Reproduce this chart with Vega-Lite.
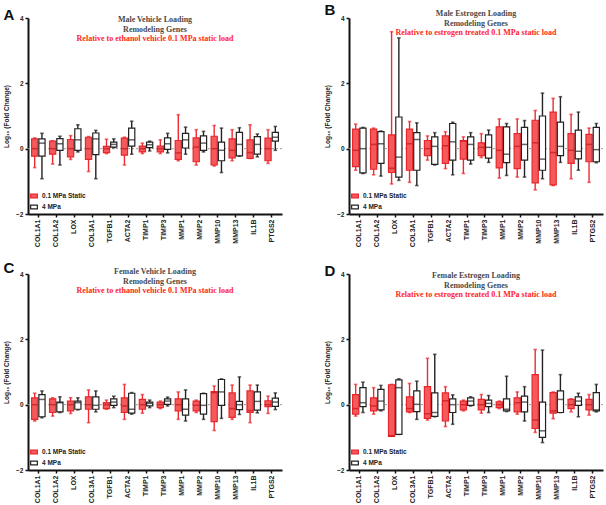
{
  "$schema": "https://vega.github.io/schema/vega-lite/v6.json",
  "padding": 3,
  "background": "white",
  "columns": 2,
  "spacing": {"row": 14, "column": 41},
  "resolve": {"scale": {"fill": "independent", "stroke": "independent"}},
  "config": {
    "view": {"stroke": null},
    "font": "Liberation Sans",
    "axis": {"domainColor": "#111", "domainWidth": 2, "tickColor": "#111", "tickWidth": 1.5, "tickSize": 3, "grid": false, "labelFont": "Liberation Sans", "labelFontWeight": "bold", "labelColor": "#222", "titleFont": "Liberation Sans", "titleFontWeight": "bold", "titleColor": "#222"},
    "legend": {"orient": "bottom-left", "offset": 2, "padding": 0, "rowPadding": 1, "labelFontSize": 6.5, "labelFontWeight": "bold", "labelColor": "#222", "labelFont": "Liberation Sans", "symbolType": "M-1,-0.55H1V0.55H-1Z", "symbolSize": 45, "symbolStrokeWidth": 1.2, "labelOffset": 4}
  },
  "data": {"values": [
    {"p":"A","g":"COL1A1","s":"0.1 MPa Static","mn":-0.58,"q1":-0.23,"md":0,"q3":0.30,"mx":0.33},
    {"p":"A","g":"COL1A1","s":"4 MPa","mn":-0.92,"q1":-0.23,"md":0.17,"q3":0.30,"mx":0.47},
    {"p":"A","g":"COL1A2","s":"0.1 MPa Static","mn":-0.47,"q1":-0.17,"md":0,"q3":0.23,"mx":0.24},
    {"p":"A","g":"COL1A2","s":"4 MPa","mn":-0.5,"q1":-0.05,"md":0.15,"q3":0.31,"mx":0.38},
    {"p":"A","g":"LOX","s":"0.1 MPa Static","mn":-0.33,"q1":-0.25,"md":0,"q3":0.28,"mx":0.40},
    {"p":"A","g":"LOX","s":"4 MPa","mn":-0.1,"q1":-0.05,"md":0.27,"q3":0.61,"mx":0.73},
    {"p":"A","g":"COL3A1","s":"0.1 MPa Static","mn":-0.7,"q1":-0.33,"md":0,"q3":0.35,"mx":0.37},
    {"p":"A","g":"COL3A1","s":"4 MPa","mn":-0.92,"q1":-0.18,"md":0.30,"q3":0.48,"mx":0.56},
    {"p":"A","g":"TGFB1","s":"0.1 MPa Static","mn":-0.15,"q1":-0.12,"md":0,"q3":0.07,"mx":0.29},
    {"p":"A","g":"TGFB1","s":"4 MPa","mn":0.03,"q1":0.05,"md":0.13,"q3":0.2,"mx":0.3},
    {"p":"A","g":"ACTA2","s":"0.1 MPa Static","mn":-0.5,"q1":-0.2,"md":0,"q3":0.32,"mx":0.35},
    {"p":"A","g":"ACTA2","s":"4 MPa","mn":-0.17,"q1":0.08,"md":0.27,"q3":0.63,"mx":0.84},
    {"p":"A","g":"TIMP1","s":"0.1 MPa Static","mn":-0.15,"q1":-0.1,"md":0,"q3":0.08,"mx":0.17},
    {"p":"A","g":"TIMP1","s":"4 MPa","mn":-0.07,"q1":0.03,"md":0.12,"q3":0.2,"mx":0.23},
    {"p":"A","g":"TIMP3","s":"0.1 MPa Static","mn":-0.15,"q1":-0.1,"md":0,"q3":0.08,"mx":0.27},
    {"p":"A","g":"TIMP3","s":"4 MPa","mn":-0.13,"q1":-0.02,"md":0.15,"q3":0.33,"mx":0.47},
    {"p":"A","g":"MMP1","s":"0.1 MPa Static","mn":-0.37,"q1":-0.33,"md":-0.13,"q3":0.25,"mx":1.04},
    {"p":"A","g":"MMP1","s":"4 MPa","mn":-0.17,"q1":0.02,"md":0.27,"q3":0.47,"mx":0.66},
    {"p":"A","g":"MMP2","s":"0.1 MPa Static","mn":-0.5,"q1":-0.4,"md":0.05,"q3":0.33,"mx":0.58},
    {"p":"A","g":"MMP2","s":"4 MPa","mn":-0.1,"q1":-0.05,"md":0.17,"q3":0.39,"mx":0.53},
    {"p":"A","g":"MMP10","s":"0.1 MPa Static","mn":-0.53,"q1":-0.5,"md":0,"q3":0.38,"mx":0.71},
    {"p":"A","g":"MMP10","s":"4 MPa","mn":-0.73,"q1":-0.37,"md":-0.05,"q3":0.2,"mx":0.63},
    {"p":"A","g":"MMP13","s":"0.1 MPa Static","mn":-0.37,"q1":-0.28,"md":-0.05,"q3":0.3,"mx":0.58},
    {"p":"A","g":"MMP13","s":"4 MPa","mn":-0.23,"q1":-0.22,"md":0.13,"q3":0.5,"mx":0.64},
    {"p":"A","g":"IL1B","s":"0.1 MPa Static","mn":-0.3,"q1":-0.3,"md":-0.12,"q3":0.27,"mx":0.73},
    {"p":"A","g":"IL1B","s":"4 MPa","mn":-0.25,"q1":-0.17,"md":0.13,"q3":0.37,"mx":0.45},
    {"p":"A","g":"PTGS2","s":"0.1 MPa Static","mn":-0.45,"q1":-0.37,"md":0,"q3":0.32,"mx":0.58},
    {"p":"A","g":"PTGS2","s":"4 MPa","mn":-0.05,"q1":0.23,"md":0.35,"q3":0.5,"mx":0.68},

    {"p":"B","g":"COL1A1","s":"0.1 MPa Static","mn":-0.66,"q1":-0.55,"md":-0.05,"q3":0.6,"mx":0.75},
    {"p":"B","g":"COL1A1","s":"4 MPa","mn":-0.76,"q1":-0.74,"md":0,"q3":0.63,"mx":0.65},
    {"p":"B","g":"COL1A2","s":"0.1 MPa Static","mn":-0.8,"q1":-0.63,"md":0.13,"q3":0.6,"mx":0.63},
    {"p":"B","g":"COL1A2","s":"4 MPa","mn":-0.84,"q1":-0.45,"md":0.15,"q3":0.52,"mx":0.54},
    {"p":"B","g":"LOX","s":"0.1 MPa Static","mn":-1.08,"q1":-0.73,"md":-0.6,"q3":0.42,"mx":3.58},
    {"p":"B","g":"LOX","s":"4 MPa","mn":-0.97,"q1":-0.87,"md":-0.26,"q3":0.97,"mx":3.39},
    {"p":"B","g":"COL3A1","s":"0.1 MPa Static","mn":-1.03,"q1":-0.66,"md":0.15,"q3":0.6,"mx":0.83},
    {"p":"B","g":"COL3A1","s":"4 MPa","mn":-1.13,"q1":-0.66,"md":0.28,"q3":0.49,"mx":0.79},
    {"p":"B","g":"TGFB1","s":"0.1 MPa Static","mn":-0.35,"q1":-0.21,"md":0,"q3":0.25,"mx":0.39},
    {"p":"B","g":"TGFB1","s":"4 MPa","mn":-0.5,"q1":-0.48,"md":0.07,"q3":0.36,"mx":0.49},
    {"p":"B","g":"ACTA2","s":"0.1 MPa Static","mn":-0.61,"q1":-0.45,"md":0.09,"q3":0.39,"mx":0.52},
    {"p":"B","g":"ACTA2","s":"4 MPa","mn":-0.8,"q1":-0.35,"md":0.21,"q3":0.77,"mx":0.81},
    {"p":"B","g":"TIMP1","s":"0.1 MPa Static","mn":-0.76,"q1":-0.32,"md":0.23,"q3":0.25,"mx":0.36},
    {"p":"B","g":"TIMP1","s":"4 MPa","mn":-0.47,"q1":-0.35,"md":0.13,"q3":0.36,"mx":0.49},
    {"p":"B","g":"TIMP3","s":"0.1 MPa Static","mn":-0.27,"q1":-0.21,"md":0.04,"q3":0.18,"mx":0.46},
    {"p":"B","g":"TIMP3","s":"4 MPa","mn":-0.42,"q1":-0.29,"md":0.04,"q3":0.42,"mx":0.57},
    {"p":"B","g":"MMP1","s":"0.1 MPa Static","mn":-0.9,"q1":-0.59,"md":-0.05,"q3":0.67,"mx":0.91},
    {"p":"B","g":"MMP1","s":"4 MPa","mn":-0.82,"q1":-0.43,"md":-0.17,"q3":0.67,"mx":0.77},
    {"p":"B","g":"MMP2","s":"0.1 MPa Static","mn":-0.87,"q1":-0.61,"md":0.07,"q3":0.46,"mx":0.91},
    {"p":"B","g":"MMP2","s":"4 MPa","mn":-0.87,"q1":-0.35,"md":0.13,"q3":0.65,"mx":0.86},
    {"p":"B","g":"MMP10","s":"0.1 MPa Static","mn":-1.26,"q1":-1.05,"md":0.18,"q3":0.87,"mx":1.17},
    {"p":"B","g":"MMP10","s":"4 MPa","mn":-0.92,"q1":-0.66,"md":-0.32,"q3":1.0,"mx":1.70},
    {"p":"B","g":"MMP13","s":"0.1 MPa Static","mn":-1.13,"q1":-1.11,"md":-0.12,"q3":1.12,"mx":1.54},
    {"p":"B","g":"MMP13","s":"4 MPa","mn":-0.42,"q1":-0.21,"md":0.07,"q3":0.81,"mx":1.59},
    {"p":"B","g":"IL1B","s":"0.1 MPa Static","mn":-0.92,"q1":-0.45,"md":-0.05,"q3":0.46,"mx":1.05},
    {"p":"B","g":"IL1B","s":"4 MPa","mn":-0.66,"q1":-0.31,"md":-0.08,"q3":0.57,"mx":1.12},
    {"p":"B","g":"PTGS2","s":"0.1 MPa Static","mn":-1.03,"q1":-0.4,"md":0.13,"q3":0.44,"mx":0.63},
    {"p":"B","g":"PTGS2","s":"4 MPa","mn":-0.43,"q1":-0.4,"md":-0.03,"q3":0.65,"mx":0.77},

    {"p":"C","g":"COL1A1","s":"0.1 MPa Static","mn":-0.5,"q1":-0.45,"md":0,"q3":0.21,"mx":0.35},
    {"p":"C","g":"COL1A1","s":"4 MPa","mn":-0.4,"q1":-0.37,"md":0.16,"q3":0.31,"mx":0.42},
    {"p":"C","g":"COL1A2","s":"0.1 MPa Static","mn":-0.35,"q1":-0.24,"md":0,"q3":0.18,"mx":0.21},
    {"p":"C","g":"COL1A2","s":"4 MPa","mn":-0.24,"q1":-0.22,"md":0.06,"q3":0.08,"mx":0.24},
    {"p":"C","g":"LOX","s":"0.1 MPa Static","mn":-0.27,"q1":-0.19,"md":0,"q3":0.11,"mx":0.21},
    {"p":"C","g":"LOX","s":"4 MPa","mn":-0.16,"q1":-0.14,"md":0.06,"q3":0.11,"mx":0.21},
    {"p":"C","g":"COL3A1","s":"0.1 MPa Static","mn":-0.55,"q1":-0.14,"md":0,"q3":0.24,"mx":0.45},
    {"p":"C","g":"COL3A1","s":"4 MPa","mn":-0.22,"q1":-0.14,"md":-0.02,"q3":0.24,"mx":0.42},
    {"p":"C","g":"TGFB1","s":"0.1 MPa Static","mn":-0.14,"q1":-0.12,"md":0,"q3":0.06,"mx":0.14},
    {"p":"C","g":"TGFB1","s":"4 MPa","mn":-0.09,"q1":-0.02,"md":0.08,"q3":0.18,"mx":0.26},
    {"p":"C","g":"ACTA2","s":"0.1 MPa Static","mn":-0.45,"q1":-0.24,"md":-0.04,"q3":0.21,"mx":0.62},
    {"p":"C","g":"ACTA2","s":"4 MPa","mn":-0.29,"q1":-0.26,"md":-0.14,"q3":0.35,"mx":0.37},
    {"p":"C","g":"TIMP1","s":"0.1 MPa Static","mn":-0.26,"q1":-0.14,"md":0,"q3":0.16,"mx":0.31},
    {"p":"C","g":"TIMP1","s":"4 MPa","mn":-0.09,"q1":-0.04,"md":0.04,"q3":0.08,"mx":0.14},
    {"p":"C","g":"TIMP3","s":"0.1 MPa Static","mn":-0.12,"q1":-0.09,"md":0,"q3":0.08,"mx":0.11},
    {"p":"C","g":"TIMP3","s":"4 MPa","mn":-0.04,"q1":0.01,"md":0.11,"q3":0.18,"mx":0.23},
    {"p":"C","g":"MMP1","s":"0.1 MPa Static","mn":-0.45,"q1":-0.19,"md":0,"q3":0.18,"mx":0.39},
    {"p":"C","g":"MMP1","s":"4 MPa","mn":-0.5,"q1":-0.32,"md":-0.14,"q3":0.18,"mx":0.45},
    {"p":"C","g":"MMP2","s":"0.1 MPa Static","mn":-0.24,"q1":-0.19,"md":-0.02,"q3":0.11,"mx":0.14},
    {"p":"C","g":"MMP2","s":"4 MPa","mn":-0.45,"q1":-0.29,"md":-0.02,"q3":0.34,"mx":0.35},
    {"p":"C","g":"MMP10","s":"0.1 MPa Static","mn":-0.79,"q1":-0.52,"md":0.37,"q3":0.4,"mx":0.57},
    {"p":"C","g":"MMP10","s":"4 MPa","mn":-0.42,"q1":-0.02,"md":0.39,"q3":0.77,"mx":0.79},
    {"p":"C","g":"MMP13","s":"0.1 MPa Static","mn":-0.45,"q1":-0.39,"md":-0.12,"q3":0.36,"mx":0.6},
    {"p":"C","g":"MMP13","s":"4 MPa","mn":-0.3,"q1":-0.15,"md":0,"q3":0.1,"mx":0.85},
    {"p":"C","g":"IL1B","s":"0.1 MPa Static","mn":-0.55,"q1":-0.24,"md":-0.18,"q3":0.42,"mx":0.6},
    {"p":"C","g":"IL1B","s":"4 MPa","mn":-0.25,"q1":-0.17,"md":0.1,"q3":0.39,"mx":0.6},
    {"p":"C","g":"PTGS2","s":"0.1 MPa Static","mn":-0.27,"q1":-0.06,"md":0,"q3":0.12,"mx":0.26},
    {"p":"C","g":"PTGS2","s":"4 MPa","mn":-0.15,"q1":-0.05,"md":0.08,"q3":0.2,"mx":0.36},

    {"p":"D","g":"COL1A1","s":"0.1 MPa Static","mn":-0.35,"q1":-0.29,"md":-0.12,"q3":0.31,"mx":0.62},
    {"p":"D","g":"COL1A1","s":"4 MPa","mn":-0.24,"q1":-0.06,"md":0.06,"q3":0.52,"mx":0.69},
    {"p":"D","g":"COL1A2","s":"0.1 MPa Static","mn":-0.29,"q1":-0.19,"md":-0.04,"q3":0.21,"mx":0.52},
    {"p":"D","g":"COL1A2","s":"4 MPa","mn":-0.19,"q1":-0.16,"md":0.11,"q3":0.47,"mx":0.59},
    {"p":"D","g":"LOX","s":"0.1 MPa Static","mn":-0.97,"q1":-0.97,"md":-0.95,"q3":0.61,"mx":0.62},
    {"p":"D","g":"LOX","s":"4 MPa","mn":-0.91,"q1":-0.91,"md":0.52,"q3":0.76,"mx":0.79},
    {"p":"D","g":"COL3A1","s":"0.1 MPa Static","mn":-0.24,"q1":-0.22,"md":-0.12,"q3":0.24,"mx":0.65},
    {"p":"D","g":"COL3A1","s":"4 MPa","mn":-0.45,"q1":-0.21,"md":0.01,"q3":0.42,"mx":0.72},
    {"p":"D","g":"TGFB1","s":"0.1 MPa Static","mn":-0.47,"q1":-0.42,"md":-0.28,"q3":0.55,"mx":1.42},
    {"p":"D","g":"TGFB1","s":"4 MPa","mn":-0.37,"q1":-0.36,"md":-0.24,"q3":0.36,"mx":1.54},
    {"p":"D","g":"ACTA2","s":"0.1 MPa Static","mn":-0.67,"q1":-0.5,"md":0.12,"q3":0.36,"mx":0.55},
    {"p":"D","g":"ACTA2","s":"4 MPa","mn":-0.6,"q1":-0.24,"md":0,"q3":0.18,"mx":0.3},
    {"p":"D","g":"TIMP1","s":"0.1 MPa Static","mn":-0.19,"q1":-0.16,"md":0,"q3":0.11,"mx":0.14},
    {"p":"D","g":"TIMP1","s":"4 MPa","mn":-0.04,"q1":-0.02,"md":0.11,"q3":0.21,"mx":0.24},
    {"p":"D","g":"TIMP3","s":"0.1 MPa Static","mn":-0.26,"q1":-0.16,"md":0,"q3":0.16,"mx":0.31},
    {"p":"D","g":"TIMP3","s":"4 MPa","mn":-0.24,"q1":-0.06,"md":0.04,"q3":0.14,"mx":0.28},
    {"p":"D","g":"MMP1","s":"0.1 MPa Static","mn":-0.12,"q1":-0.09,"md":0,"q3":0.09,"mx":0.11},
    {"p":"D","g":"MMP1","s":"4 MPa","mn":-0.21,"q1":-0.19,"md":-0.14,"q3":0.18,"mx":0.87},
    {"p":"D","g":"MMP2","s":"0.1 MPa Static","mn":-0.29,"q1":-0.22,"md":0.06,"q3":0.21,"mx":0.39},
    {"p":"D","g":"MMP2","s":"4 MPa","mn":-0.5,"q1":-0.22,"md":0.08,"q3":0.26,"mx":0.55},
    {"p":"D","g":"MMP10","s":"0.1 MPa Static","mn":-0.85,"q1":-0.73,"md":-0.47,"q3":0.92,"mx":1.69},
    {"p":"D","g":"MMP10","s":"4 MPa","mn":-1.16,"q1":-1.0,"md":-0.8,"q3":0.08,"mx":1.67},
    {"p":"D","g":"MMP13","s":"0.1 MPa Static","mn":-0.43,"q1":-0.26,"md":-0.19,"q3":0.37,"mx":0.39},
    {"p":"D","g":"MMP13","s":"4 MPa","mn":-0.24,"q1":-0.24,"md":0.16,"q3":0.42,"mx":0.92},
    {"p":"D","g":"IL1B","s":"0.1 MPa Static","mn":-0.22,"q1":-0.12,"md":0,"q3":0.16,"mx":0.18},
    {"p":"D","g":"IL1B","s":"4 MPa","mn":-0.37,"q1":-0.02,"md":0.11,"q3":0.24,"mx":0.35},
    {"p":"D","g":"PTGS2","s":"0.1 MPa Static","mn":-0.32,"q1":-0.16,"md":0,"q3":0.16,"mx":0.31},
    {"p":"D","g":"PTGS2","s":"4 MPa","mn":-0.22,"q1":-0.19,"md":-0.16,"q3":0.37,"mx":0.62}
  ]},
  "concat": [
    {
      "title": {"text": "A", "anchor": "start", "frame": "bounds", "fontSize": 15, "fontWeight": "bold", "font": "Liberation Sans", "color": "#111", "offset": -8},
      "resolve": {"scale": {"fill": "independent", "stroke": "independent"}},
      "vconcat": [{
        "width": 254, "height": 196,
        "title": {"text": ["Male Vehicle Loading", "Remodeling Genes"], "subtitle": "Relative to ethanol vehicle 0.1 MPa static load", "anchor": "middle", "frame": "group", "font": "Liberation Serif", "fontSize": 8, "fontWeight": "bold", "color": "#4a4a4a", "lineHeight": 10, "subtitleFont": "Liberation Serif", "subtitleFontSize": 8, "subtitleFontWeight": "bold", "subtitleColor": "#ff2626", "subtitlePadding": 1, "offset": -28},
        "transform": [{"filter": "datum.p === 'A'"}],
        "layer": [
          {"data": {"values": [{}]}, "mark": {"type": "rule", "strokeDash": [2, 2], "color": "#9a9a9a", "strokeWidth": 1}, "encoding": {"y": {"datum": 0, "type": "quantitative"}}},
          {
            "encoding": {
              "x": {"field": "g", "type": "nominal", "sort": ["COL1A1","COL1A2","LOX","COL3A1","TGFB1","ACTA2","TIMP1","TIMP3","MMP1","MMP2","MMP10","MMP13","IL1B","PTGS2"], "scale": {"paddingInner": 0.25, "paddingOuter": 0.2}, "axis": {"title": null, "labelAngle": -90, "labelFontSize": 7, "labelPadding": 2}},
              "xOffset": {"field": "s", "type": "nominal", "sort": ["0.1 MPa Static", "4 MPa"], "scale": {"paddingInner": 0.15}}
            },
            "layer": [
              {"mark": {"type": "rule", "strokeWidth": 1.4}, "encoding": {"y": {"field": "mn", "type": "quantitative", "title": "Log₁₀ (Fold Change)", "scale": {"domain": [-2, 4]}, "axis": {"values": [-2, 0, 2, 4], "labelFontSize": 6.5, "titleFontSize": 6.5, "titlePadding": 6}}, "y2": {"field": "mx"}, "stroke": {"condition": {"test": "datum.s === '4 MPa'", "value": "#222222"}, "value": "#ee2a30"}}},
              {"mark": {"type": "tick", "size": 3.5, "thickness": 1.6}, "encoding": {"y": {"field": "mn", "type": "quantitative", "title": "Log₁₀ (Fold Change)"}, "color": {"condition": {"test": "datum.s === '4 MPa'", "value": "#222222"}, "value": "#ee2a30"}}},
              {"mark": {"type": "tick", "size": 3.5, "thickness": 1.6}, "encoding": {"y": {"field": "mx", "type": "quantitative", "title": "Log₁₀ (Fold Change)"}, "color": {"condition": {"test": "datum.s === '4 MPa'", "value": "#222222"}, "value": "#ee2a30"}}},
              {"mark": {"type": "bar", "strokeWidth": 1.2, "fillOpacity": 1}, "encoding": {"y": {"field": "q1", "type": "quantitative", "title": "Log₁₀ (Fold Change)"}, "y2": {"field": "q3"}, "fill": {"field": "s", "type": "nominal", "scale": {"domain": ["0.1 MPa Static", "4 MPa"], "range": ["#f45a5c", "#ffffff"]}, "legend": {"title": null, "orient": "bottom-left"}}, "stroke": {"field": "s", "type": "nominal", "scale": {"domain": ["0.1 MPa Static", "4 MPa"], "range": ["#e8262c", "#222222"]}, "legend": {"title": null, "orient": "bottom-left"}}}},
              {"mark": {"type": "tick", "size": 6, "thickness": 1.5}, "encoding": {"y": {"field": "md", "type": "quantitative", "title": "Log₁₀ (Fold Change)"}, "color": {"condition": {"test": "datum.s === '4 MPa'", "value": "#222222"}, "value": "#c8141a"}}}
            ]
          }
        ]
      }]
    },
    {
      "title": {"text": "B", "anchor": "start", "frame": "bounds", "fontSize": 15, "fontWeight": "bold", "font": "Liberation Sans", "color": "#111", "offset": -8},
      "resolve": {"scale": {"fill": "independent", "stroke": "independent"}},
      "vconcat": [{
        "width": 254, "height": 196,
        "title": {"text": ["Male Estrogen Loading", "Remodeling Genes"], "subtitle": "Relative to estrogen treated 0.1 MPa static load", "anchor": "middle", "frame": "group", "font": "Liberation Serif", "fontSize": 8, "fontWeight": "bold", "color": "#4a4a4a", "lineHeight": 10, "subtitleFont": "Liberation Serif", "subtitleFontSize": 8, "subtitleFontWeight": "bold", "subtitleColor": "#ff2626", "subtitlePadding": 1, "offset": -22},
        "transform": [{"filter": "datum.p === 'B'"}],
        "layer": [
          {"data": {"values": [{}]}, "mark": {"type": "rule", "strokeDash": [2, 2], "color": "#9a9a9a", "strokeWidth": 1}, "encoding": {"y": {"datum": 0, "type": "quantitative"}}},
          {
            "encoding": {
              "x": {"field": "g", "type": "nominal", "sort": ["COL1A1","COL1A2","LOX","COL3A1","TGFB1","ACTA2","TIMP1","TIMP3","MMP1","MMP2","MMP10","MMP13","IL1B","PTGS2"], "scale": {"paddingInner": 0.25, "paddingOuter": 0.2}, "axis": {"title": null, "labelAngle": -90, "labelFontSize": 7, "labelPadding": 2}},
              "xOffset": {"field": "s", "type": "nominal", "sort": ["0.1 MPa Static", "4 MPa"], "scale": {"paddingInner": 0.15}}
            },
            "layer": [
              {"mark": {"type": "rule", "strokeWidth": 1.4}, "encoding": {"y": {"field": "mn", "type": "quantitative", "title": "Log₁₀ (Fold Change)", "scale": {"domain": [-2, 4]}, "axis": {"values": [-2, 0, 2, 4], "labelFontSize": 6.5, "titleFontSize": 6.5, "titlePadding": 6}}, "y2": {"field": "mx"}, "stroke": {"condition": {"test": "datum.s === '4 MPa'", "value": "#222222"}, "value": "#ee2a30"}}},
              {"mark": {"type": "tick", "size": 3.5, "thickness": 1.6}, "encoding": {"y": {"field": "mn", "type": "quantitative", "title": "Log₁₀ (Fold Change)"}, "color": {"condition": {"test": "datum.s === '4 MPa'", "value": "#222222"}, "value": "#ee2a30"}}},
              {"mark": {"type": "tick", "size": 3.5, "thickness": 1.6}, "encoding": {"y": {"field": "mx", "type": "quantitative", "title": "Log₁₀ (Fold Change)"}, "color": {"condition": {"test": "datum.s === '4 MPa'", "value": "#222222"}, "value": "#ee2a30"}}},
              {"mark": {"type": "bar", "strokeWidth": 1.2, "fillOpacity": 1}, "encoding": {"y": {"field": "q1", "type": "quantitative", "title": "Log₁₀ (Fold Change)"}, "y2": {"field": "q3"}, "fill": {"field": "s", "type": "nominal", "scale": {"domain": ["0.1 MPa Static", "4 MPa"], "range": ["#f45a5c", "#ffffff"]}, "legend": {"title": null, "orient": "bottom-left"}}, "stroke": {"field": "s", "type": "nominal", "scale": {"domain": ["0.1 MPa Static", "4 MPa"], "range": ["#e8262c", "#222222"]}, "legend": {"title": null, "orient": "bottom-left"}}}},
              {"mark": {"type": "tick", "size": 6, "thickness": 1.5}, "encoding": {"y": {"field": "md", "type": "quantitative", "title": "Log₁₀ (Fold Change)"}, "color": {"condition": {"test": "datum.s === '4 MPa'", "value": "#222222"}, "value": "#c8141a"}}}
            ]
          }
        ]
      }]
    },
    {
      "title": {"text": "C", "anchor": "start", "frame": "bounds", "fontSize": 15, "fontWeight": "bold", "font": "Liberation Sans", "color": "#111", "offset": -8},
      "resolve": {"scale": {"fill": "independent", "stroke": "independent"}},
      "vconcat": [{
        "width": 254, "height": 196,
        "title": {"text": ["Female Vehicle Loading", "Remodeling Genes"], "subtitle": "Relative to ethanol vehicle 0.1 MPa static load", "anchor": "middle", "frame": "group", "font": "Liberation Serif", "fontSize": 8, "fontWeight": "bold", "color": "#4a4a4a", "lineHeight": 10, "subtitleFont": "Liberation Serif", "subtitleFontSize": 8, "subtitleFontWeight": "bold", "subtitleColor": "#ff2626", "subtitlePadding": 1, "offset": -24},
        "transform": [{"filter": "datum.p === 'C'"}],
        "layer": [
          {"data": {"values": [{}]}, "mark": {"type": "rule", "strokeDash": [2, 2], "color": "#9a9a9a", "strokeWidth": 1}, "encoding": {"y": {"datum": 0, "type": "quantitative"}}},
          {
            "encoding": {
              "x": {"field": "g", "type": "nominal", "sort": ["COL1A1","COL1A2","LOX","COL3A1","TGFB1","ACTA2","TIMP1","TIMP3","MMP1","MMP2","MMP10","MMP13","IL1B","PTGS2"], "scale": {"paddingInner": 0.25, "paddingOuter": 0.2}, "axis": {"title": null, "labelAngle": -90, "labelFontSize": 7, "labelPadding": 2}},
              "xOffset": {"field": "s", "type": "nominal", "sort": ["0.1 MPa Static", "4 MPa"], "scale": {"paddingInner": 0.15}}
            },
            "layer": [
              {"mark": {"type": "rule", "strokeWidth": 1.4}, "encoding": {"y": {"field": "mn", "type": "quantitative", "title": "Log₁₀ (Fold Change)", "scale": {"domain": [-2, 4]}, "axis": {"values": [-2, 0, 2, 4], "labelFontSize": 6.5, "titleFontSize": 6.5, "titlePadding": 6}}, "y2": {"field": "mx"}, "stroke": {"condition": {"test": "datum.s === '4 MPa'", "value": "#222222"}, "value": "#ee2a30"}}},
              {"mark": {"type": "tick", "size": 3.5, "thickness": 1.6}, "encoding": {"y": {"field": "mn", "type": "quantitative", "title": "Log₁₀ (Fold Change)"}, "color": {"condition": {"test": "datum.s === '4 MPa'", "value": "#222222"}, "value": "#ee2a30"}}},
              {"mark": {"type": "tick", "size": 3.5, "thickness": 1.6}, "encoding": {"y": {"field": "mx", "type": "quantitative", "title": "Log₁₀ (Fold Change)"}, "color": {"condition": {"test": "datum.s === '4 MPa'", "value": "#222222"}, "value": "#ee2a30"}}},
              {"mark": {"type": "bar", "strokeWidth": 1.2, "fillOpacity": 1}, "encoding": {"y": {"field": "q1", "type": "quantitative", "title": "Log₁₀ (Fold Change)"}, "y2": {"field": "q3"}, "fill": {"field": "s", "type": "nominal", "scale": {"domain": ["0.1 MPa Static", "4 MPa"], "range": ["#f45a5c", "#ffffff"]}, "legend": {"title": null, "orient": "bottom-left"}}, "stroke": {"field": "s", "type": "nominal", "scale": {"domain": ["0.1 MPa Static", "4 MPa"], "range": ["#e8262c", "#222222"]}, "legend": {"title": null, "orient": "bottom-left"}}}},
              {"mark": {"type": "tick", "size": 6, "thickness": 1.5}, "encoding": {"y": {"field": "md", "type": "quantitative", "title": "Log₁₀ (Fold Change)"}, "color": {"condition": {"test": "datum.s === '4 MPa'", "value": "#222222"}, "value": "#c8141a"}}}
            ]
          }
        ]
      }]
    },
    {
      "title": {"text": "D", "anchor": "start", "frame": "bounds", "fontSize": 15, "fontWeight": "bold", "font": "Liberation Sans", "color": "#111", "offset": -8},
      "resolve": {"scale": {"fill": "independent", "stroke": "independent"}},
      "vconcat": [{
        "width": 254, "height": 196,
        "title": {"text": ["Female Estrogen Loading", "Remodeling Genes"], "subtitle": "Relative to estrogen treated 0.1 MPa static load", "anchor": "middle", "frame": "group", "font": "Liberation Serif", "fontSize": 8, "fontWeight": "bold", "color": "#4a4a4a", "lineHeight": 10, "subtitleFont": "Liberation Serif", "subtitleFontSize": 8, "subtitleFontWeight": "bold", "subtitleColor": "#ff2626", "subtitlePadding": 1, "offset": -28},
        "transform": [{"filter": "datum.p === 'D'"}],
        "layer": [
          {"data": {"values": [{}]}, "mark": {"type": "rule", "strokeDash": [2, 2], "color": "#9a9a9a", "strokeWidth": 1}, "encoding": {"y": {"datum": 0, "type": "quantitative"}}},
          {
            "encoding": {
              "x": {"field": "g", "type": "nominal", "sort": ["COL1A1","COL1A2","LOX","COL3A1","TGFB1","ACTA2","TIMP1","TIMP3","MMP1","MMP2","MMP10","MMP13","IL1B","PTGS2"], "scale": {"paddingInner": 0.25, "paddingOuter": 0.2}, "axis": {"title": null, "labelAngle": -90, "labelFontSize": 7, "labelPadding": 2}},
              "xOffset": {"field": "s", "type": "nominal", "sort": ["0.1 MPa Static", "4 MPa"], "scale": {"paddingInner": 0.15}}
            },
            "layer": [
              {"mark": {"type": "rule", "strokeWidth": 1.4}, "encoding": {"y": {"field": "mn", "type": "quantitative", "title": "Log₁₀ (Fold Change)", "scale": {"domain": [-2, 4]}, "axis": {"values": [-2, 0, 2, 4], "labelFontSize": 6.5, "titleFontSize": 6.5, "titlePadding": 6}}, "y2": {"field": "mx"}, "stroke": {"condition": {"test": "datum.s === '4 MPa'", "value": "#222222"}, "value": "#ee2a30"}}},
              {"mark": {"type": "tick", "size": 3.5, "thickness": 1.6}, "encoding": {"y": {"field": "mn", "type": "quantitative", "title": "Log₁₀ (Fold Change)"}, "color": {"condition": {"test": "datum.s === '4 MPa'", "value": "#222222"}, "value": "#ee2a30"}}},
              {"mark": {"type": "tick", "size": 3.5, "thickness": 1.6}, "encoding": {"y": {"field": "mx", "type": "quantitative", "title": "Log₁₀ (Fold Change)"}, "color": {"condition": {"test": "datum.s === '4 MPa'", "value": "#222222"}, "value": "#ee2a30"}}},
              {"mark": {"type": "bar", "strokeWidth": 1.2, "fillOpacity": 1}, "encoding": {"y": {"field": "q1", "type": "quantitative", "title": "Log₁₀ (Fold Change)"}, "y2": {"field": "q3"}, "fill": {"field": "s", "type": "nominal", "scale": {"domain": ["0.1 MPa Static", "4 MPa"], "range": ["#f45a5c", "#ffffff"]}, "legend": {"title": null, "orient": "bottom-left"}}, "stroke": {"field": "s", "type": "nominal", "scale": {"domain": ["0.1 MPa Static", "4 MPa"], "range": ["#e8262c", "#222222"]}, "legend": {"title": null, "orient": "bottom-left"}}}},
              {"mark": {"type": "tick", "size": 6, "thickness": 1.5}, "encoding": {"y": {"field": "md", "type": "quantitative", "title": "Log₁₀ (Fold Change)"}, "color": {"condition": {"test": "datum.s === '4 MPa'", "value": "#222222"}, "value": "#c8141a"}}}
            ]
          }
        ]
      }]
    }
  ]
}
